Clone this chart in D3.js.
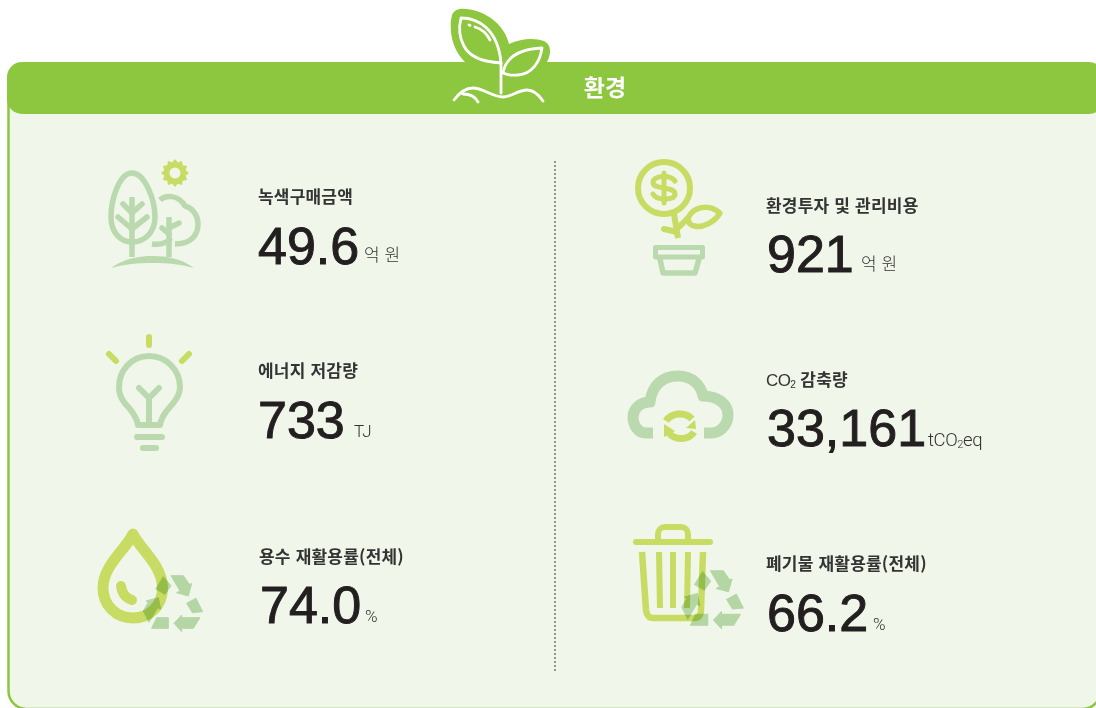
<!DOCTYPE html>
<html lang="ko">
<head>
<meta charset="utf-8">
<style>
  html, body { margin: 0; background: #fff; }
  svg { display: block; }
  text { font-family: "Noto Sans CJK KR", sans-serif; }
  .value { font-family: "Liberation Sans", sans-serif; fill: #231f20; stroke: #231f20; stroke-width: 1; }
  .label { font-weight: 700; fill: #333; letter-spacing: 0.2px; }
  .unit { font-weight: 300; fill: #333; }
  .latin { font-family: Roboto, "Liberation Sans", sans-serif; font-weight: 300; }
  .label .latin { font-family: "Liberation Sans", sans-serif; font-weight: 400; letter-spacing: -0.6px; }
</style>
</head>
<body>
<div id="chart"></div>
<script src="https://cdn.jsdelivr.net/npm/d3@7"></script>
<script>
const title = "환경";
const labels = [
  "녹색구매금액", "에너지 저감량", "용수 재활용률(전체)",
  "환경투자 및 관리비용", "CO2 감축량", "폐기물 재활용률(전체)",
];
const values = ["49.6", "733", "74.0", "921", "33,161", "66.2"];
const units = ["억 원", "TJ", "%", "억 원", "tCO2eq", "%"];

const width = 1096;
const height = 708;
const green = "#8dc73f";
const panel = "#f0f6e9";
const pale = "#bbd9ae";
const lime = "#c8db63";

// text anchor of each item, same order as the arrays above
const labelX = [258, 258, 259, 766, 766, 766];
const labelY = [203, 377, 563, 212, 386, 570];
const valueX = [258, 258, 260, 767, 767, 767];
const valueY = [264, 438, 623, 272, 446, 631];
const unitX = [364, 354, 365, 861, 928, 873];
const unitY = [261, 437, 622, 270, 446, 630];

const svg = d3
  .select("#chart")
  .append("svg")
  .attr("width", width)
  .attr("height", height);

svg
  .append("rect")
  .attr("x", 8.5)
  .attr("y", 70)
  .attr("width", 1092)
  .attr("height", 639)
  .attr("rx", 18)
  .attr("fill", panel)
  .attr("stroke", green)
  .attr("stroke-width", 2.5);

svg
  .append("rect")
  .attr("x", 7)
  .attr("y", 62)
  .attr("width", 1097)
  .attr("height", 52)
  .attr("rx", 15)
  .attr("fill", green);

svg
  .append("line")
  .attr("x1", 555)
  .attr("x2", 555)
  .attr("y1", 161)
  .attr("y2", 671)
  .attr("stroke", "#52604a")
  .attr("stroke-width", 1.2)
  .attr("stroke-dasharray", "2 2");

function stroke(g, d, color, w, cap = "round") {
  return g
    .append("path")
    .attr("d", d)
    .attr("fill", "none")
    .attr("stroke", color)
    .attr("stroke-width", w)
    .attr("stroke-linecap", cap)
    .attr("stroke-linejoin", "round");
}

function fill(g, d, color) {
  return g.append("path").attr("d", d).attr("fill", color);
}

function drawSprout(g) {
  fill(
    g,
    "M452,15 C455,8 462,8 470,9.5 C490,13 505,27 509,44 C522,38 535,38 544,41 C552,45 551,54 547,62 L470,66 C458,58 449,42 451,20 Z",
    green
  );
  stroke(g, "M461,18 C477,18 498,28 501,63 C484,62 470,58 464,46 C459,37 459,26 461,18 Z", "#fff", 2.8);
  stroke(g, "M475,27 C482,29 487,34 490,40", "#fff", 2.8);
  stroke(g, "M469,25 L470,25.3", "#fff", 2.8);
  stroke(g, "M501,63 L501,93", "#fff", 2.8);
  stroke(g, "M503,73 C506,56 520,49 542,48 C540,62 532,74 518,75 C512,75.5 507,75 503,73 Z", "#fff", 2.8);
  stroke(g, "M454,100 C460,92 466,88 473,88 C483,88 492,97 503,97 C511,97 518,90 527,90 C534,90 539,95 543,101", "#fff", 2.8);
  stroke(g, "M463,94 C469,94 475,96 478,102", "#fff", 2.8);
}

function drawTrees(g) {
  stroke(g, "M132,173 C119,173 111,200 111,217 C111,232 120,242 132,242 C145,242 155,232 155,217 C155,200 145,173 132,173 Z", pale, 5.5);
  stroke(g, "M132,197 L132,257", pale, 5.5, "butt");
  stroke(g, "M123,204 L132,213 L142,204 M118,217 L132,229 L147,217", pale, 5.5);
  stroke(g, "M160,200 C165,195 178,194 185,206 C193,208 198,216 198,224 C198,236 190,244 175,244", pale, 5.5, "butt");
  stroke(g, "M152,244 C160,245 167,243 171,238", pale, 5.5, "butt");
  stroke(g, "M169,217 L169,257", pale, 5.5, "butt");
  stroke(g, "M179,223 L169,228 M162,228 L169,234", pale, 5.5);
  fill(g, "M111,268 C125,258 140,256 153,256 C168,256 182,259 194,268 C180,264 167,263 153,263 C138,263 125,264 111,268 Z", pale);
  const sun = d3
    .lineRadial()
    .angle((d) => (d * Math.PI) / 12)
    .radius((d) => (d % 2 ? 11 : 14));
  fill(g.append("g").attr("transform", "translate(175,173)"), sun(d3.range(24)) + "Z", lime);
  g.append("circle").attr("cx", 175).attr("cy", 173).attr("r", 5.5).attr("fill", panel);
}

function drawBulb(g) {
  stroke(g, "M149,337 L149,345 M109,354 L116,361 M189,354 L182,361", lime, 6);
  stroke(g, "M138,425 C136,413 128,408 124,402 C120,397 119,392 119,387 C119,370 132,356 149,356 C166,356 180,370 180,387 C180,392 178,397 174,402 C170,408 162,413 160,425 Z", pale, 6);
  stroke(g, "M139,388 L149,398 L159,388", pale, 6);
  stroke(g, "M149,398 L149,425", pale, 6);
  stroke(g, "M137,437 L162,437 M143,448 L156,448", pale, 6);
}

function drawRecycle(g) {
  [
    "258,182 295,182 313,208 320,206 310,243 275,233 285,228",
    "212,222 235,185 258,212 240,238",
    "175,288 190,262 183,258 220,248 227,283 218,278 192,322",
    "200,340 215,308 250,308 250,340",
    "305,265 333,250 353,290 322,293",
    "345,308 325,340 290,340 290,350 267,325 290,300 290,308",
  ].forEach((pts) => {
    g.append("polygon")
      .attr("points", pts)
      .attr("fill", "#c0deb5")
      .attr("stroke", "#c0deb5")
      .attr("stroke-width", 3)
      .attr("stroke-linejoin", "round")
      .style("mix-blend-mode", "multiply");
  });
}

function drawDrop(g) {
  stroke(g, "M133,534 C127,548 103,565 103,588 C103,605 116,618 133,618 C150,618 162.5,605 162.5,588 C162.5,565 139,548 133,534 Z", lime, 11);
  stroke(g, "M121,586 C122,594 126,598 132,600", lime, 10);
  drawRecycle(
    g.append("g").attr("transform", "translate(85,515) scale(0.3333)")
  );
}

function drawCoinPlant(g) {
  g.append("circle")
    .attr("cx", 664)
    .attr("cy", 188)
    .attr("r", 26)
    .attr("fill", "none")
    .attr("stroke", lime)
    .attr("stroke-width", 6);
  stroke(g, "M675,181 C673,178 669,176.5 664,176.5 C657,176.5 653,179 653,182.5 C653,186.5 658,187 664,188 C670,189 675,190 675,194 C675,197.5 671,199 664,199 C659,199 655,197.5 653,194", lime, 5);
  stroke(g, "M664,173 L664,203", lime, 5);
  stroke(g, "M674,214 L678,238", lime, 6, "butt");
  stroke(g, "M664,229 L677,232 M678,228 L688,218", lime, 6);
  stroke(g, "M688,218 C693,207 708,203 720,213 C714,223 702,228 694,226 C690,225 688,222 688,218 Z", lime, 5.5);
  stroke(g, "M655.5,247.5 L702.5,247.5 L702.5,257 L655.5,257 Z", pale, 5);
  stroke(g, "M660,259 L663,273 L695,273 L699,259", pale, 5.5);
}

function drawCloud(g) {
  stroke(g, "M653,433 L646,433 C637,433 633,424 633,417 C633,409 640,402 650,402 C652,385 663,376 678,376 C692,376 701,385 703,396 C718,396 728,404 728,415 C728,425 720,433 711,433 L704,433", pale, 11, "butt");
  stroke(g, "M666,421 C671,413 685,411 692,419", lime, 7, "butt");
  fill(g, "M695,420 L696,429 L686,428 Z", lime);
  stroke(g, "M694,432 C689,440 675,441 669,433", lime, 7, "butt");
  fill(g, "M664,424 L664,437 L675,431 Z", lime);
}

function drawBin(g) {
  stroke(g, "M636,542 L710,542", lime, 6);
  stroke(g, "M658,541 L658,534 C658,530 661,527 665,527 L681,527 C685,527 688,530 688,534 L688,541", lime, 6, "butt");
  stroke(g, "M642,552 L646,610 C646.5,615 649,618 653,618 L695,618 C699,618 701,615 701,610 L703,552", lime, 6.5, "butt");
  stroke(g, "M659,552 L660,608 M673,552 L673,608 M688,552 L687,608", lime, 6, "butt");
  drawRecycle(
    g.append("g").attr("transform", "translate(621.5,508) scale(0.345)")
  );
}

drawSprout(svg.append("g"));
drawTrees(svg.append("g"));
drawBulb(svg.append("g"));
drawDrop(svg.append("g"));
drawCoinPlant(svg.append("g"));
drawCloud(svg.append("g"));
drawBin(svg.append("g"));

svg
  .append("text")
  .attr("x", 605)
  .attr("y", 96)
  .attr("text-anchor", "middle")
  .attr("fill", "#fff")
  .attr("font-size", 23)
  .attr("font-weight", 700)
  .text(title);

// "CO2" gets its 2 lowered, the rest stays one run of text
function withSubscript(sel, latinSize) {
  sel.each(function (d) {
    const node = d3.select(this);
    const parts = d.split("2");
    if (parts.length < 2) {
      node.text(d);
      return;
    }
    node.append("tspan").attr("class", "latin").attr("font-size", latinSize).text(parts[0]);
    node
      .append("tspan")
      .attr("class", "latin")
      .attr("font-size", latinSize * 0.6)
      .attr("dy", 2)
      .text("2");
    node
      .append("tspan")
      .attr("class", /[a-z]/.test(parts[1]) ? "latin" : null)
      .attr("font-size", /[a-z]/.test(parts[1]) ? latinSize : null)
      .attr("dy", -2)
      .text(parts[1]);
  });
}

svg
  .append("g")
  .attr("font-size", 17)
  .selectAll("text")
  .data(labels)
  .join("text")
  .attr("class", "label")
  .attr("x", (d, i) => labelX[i])
  .attr("y", (d, i) => labelY[i])
  .call(withSubscript, 17);

svg
  .append("g")
  .attr("font-size", 52)
  .selectAll("text")
  .data(values)
  .join("text")
  .attr("class", "value")
  .attr("x", (d, i) => valueX[i])
  .attr("y", (d, i) => valueY[i])
  .text((d) => d);

svg
  .append("g")
  .attr("font-size", 17)
  .selectAll("text")
  .data(units)
  .join("text")
  .attr("class", (d) => (/[a-zA-Z%]/.test(d) ? "unit latin" : "unit"))
  .attr("x", (d, i) => unitX[i])
  .attr("y", (d, i) => unitY[i])
  .attr("letter-spacing", (d) => (d.length > 3 ? -0.4 : null))
  .call(withSubscript, 18.5);
</script>
</body>
</html>
